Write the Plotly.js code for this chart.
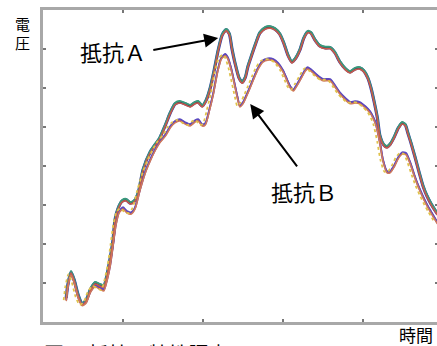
<!DOCTYPE html>
<html>
<head>
<meta charset="utf-8">
<script src="https://cdn.plot.ly/plotly-3.0.1.min.js"></script>
<style>
html,body{margin:0;padding:0;overflow:hidden;background:#fff;}
#chart{width:445px;height:346px;}
</style>
</head>
<body>
<div id="chart"></div>
<script>
// Time (arbitrary units) and voltage (arbitrary units)
const timeA = [0.29,0.31,0.35,0.39,0.44,0.49,0.54,0.59,0.65,0.71,0.76,0.80,0.84,0.875,0.90,0.94,0.99,1.04,1.09,1.14,1.19,1.25,1.34,1.40,1.46,1.53,1.59,1.65,1.71,1.78,1.84,1.90,1.94,1.99,2.04,2.09,2.14,2.19,2.24,2.29,2.33,2.36,2.40,2.45,2.49,2.53,2.56,2.61,2.66,2.71,2.78,2.84,2.90,2.96,3.01,3.06,3.11,3.16,3.21,3.26,3.31,3.35,3.40,3.46,3.53,3.59,3.65,3.71,3.78,3.84,3.90,3.96,4.01,4.06,4.10,4.14,4.18,4.21,4.26,4.30,4.34,4.39,4.44,4.49,4.53,4.56,4.60,4.65,4.70,4.75,4.80,4.85,4.93];
const voltA = [0.62,0.95,1.28,1.08,0.69,0.46,0.56,0.82,1.00,0.95,0.92,1.21,1.64,2.10,2.62,2.92,3.10,3.13,3.05,3.10,3.31,3.90,4.36,4.54,4.72,5.05,5.36,5.59,5.64,5.59,5.54,5.62,5.64,5.54,5.69,6.00,6.46,6.97,7.36,7.49,7.38,7.03,6.64,6.26,6.15,6.28,6.54,6.85,7.15,7.41,7.54,7.56,7.51,7.38,7.15,6.85,6.67,6.77,6.97,7.28,7.44,7.41,7.23,7.08,7.03,7.03,6.90,6.67,6.49,6.41,6.49,6.51,6.44,6.26,6.00,5.64,5.23,4.79,4.54,4.49,4.56,4.74,4.97,5.10,5.05,4.85,4.59,4.23,3.85,3.49,3.23,3.03,2.77];
const timeB = [0.29,0.31,0.35,0.39,0.44,0.49,0.54,0.59,0.65,0.71,0.76,0.80,0.84,0.875,0.91,0.95,1.00,1.05,1.10,1.15,1.21,1.28,1.34,1.40,1.46,1.53,1.59,1.65,1.71,1.78,1.84,1.90,1.94,1.99,2.03,2.08,2.13,2.18,2.23,2.28,2.31,2.35,2.39,2.43,2.46,2.50,2.54,2.59,2.64,2.69,2.75,2.81,2.88,2.94,3.00,3.05,3.09,3.13,3.18,3.23,3.28,3.31,3.36,3.43,3.50,3.59,3.65,3.71,3.78,3.84,3.90,3.96,4.03,4.09,4.13,4.16,4.21,4.25,4.30,4.34,4.39,4.44,4.49,4.54,4.59,4.64,4.69,4.75,4.80,4.85,4.93];
const voltB = [0.56,0.90,1.23,1.03,0.64,0.44,0.51,0.77,0.92,0.87,0.82,1.08,1.46,1.97,2.49,2.82,2.92,2.82,2.79,2.92,3.38,3.85,4.15,4.41,4.62,4.79,5.00,5.13,5.18,5.10,5.05,5.15,5.18,5.05,5.08,5.44,5.87,6.41,6.77,6.85,6.77,6.51,6.15,5.77,5.54,5.62,5.79,6.03,6.28,6.51,6.69,6.74,6.72,6.62,6.44,6.21,6.03,5.95,6.10,6.28,6.46,6.51,6.44,6.31,6.21,6.21,6.05,5.87,5.72,5.62,5.64,5.62,5.51,5.38,5.23,5.08,4.62,4.15,3.85,3.85,4.00,4.21,4.33,4.31,4.08,3.77,3.49,3.21,3.00,2.82,2.54];

const labelA = '抵抗Ａ';
const labelB = '抵抗Ｂ';
const yTitle1 = '電';
const yTitle2 = '圧';
const xTitle = '時間';
const caption = '図１ 抵抗の特性調査';

const XR = [0, 4.9375];
const YR = [0, 8];
const px = 1/80, py = 1/39;

function tr(x, y, color, width, opts) {
  return Object.assign({
    x: x, y: y, type: 'scatter', mode: 'lines',
    line: {color: color, width: width, shape: 'spline', smoothing: 0.6},
    hoverinfo: 'skip', showlegend: false
  }, opts || {});
}

const traces = [
  // bundle A
  tr(timeA, voltA, '#3a9a7a', 2, {yaxis: 'y2'}),
  tr(timeA, voltA, '#c85a4a', 1.6, {yaxis: 'y3'}),
  tr(timeA, voltA, '#3040b0', 3.2),
  tr(timeA, voltA, '#2a1f5a', 1.6),
  // bundle B
  tr(timeB, voltB, '#e2c040', 2, {xaxis: 'x3', line: {color: '#e0c24a', width: 1.8, dash: 'dot', shape: 'spline', smoothing: 0.6}}),
  tr(timeB, voltB, '#d07a5a', 1.5, {yaxis: 'y3'}),
  tr(timeB, voltB, '#5a4ac0', 1.5, {yaxis: 'y2'}),
  tr(timeB, voltB, '#7a3aa0', 2)
];

const font = 'Noto Sans CJK JP, Noto Sans, sans-serif';

const axisCommon = {
  showgrid: false, zeroline: false, showticklabels: false,
  showline: true, linecolor: '#a8a8a8', linewidth: 3, mirror: 'ticks',
  ticks: 'inside', ticklen: 3, tickwidth: 1.5, tickcolor: '#777', dtick: 1, tick0: 0
};

function txt(x, y, text, size, anchor) {
  return {xref: 'paper', yref: 'paper', x: (x-43)/395, y: (322-y)/312, text: text, showarrow: false,
    font: {family: font, size: size, color: '#000'}, xanchor: anchor || 'center', yanchor: 'middle', borderpad: 0};
}

const layout = {
  width: 445, height: 346,
  margin: {l: 43, r: 7, t: 10, b: 24},
  paper_bgcolor: '#fff', plot_bgcolor: '#fff',
  xaxis: Object.assign({}, axisCommon, {range: XR}),
  yaxis: Object.assign({}, axisCommon, {range: YR}),
  xaxis3: {overlaying: 'x', range: [XR[0] + 2.5*px, XR[1] + 2.5*px], visible: false},
  yaxis2: {overlaying: 'y', range: [YR[0] - 1*py, YR[1] - 1*py], visible: false},
  yaxis3: {overlaying: 'y', range: [YR[0] + 1*py, YR[1] + 1*py], visible: false},
  annotations: [
    txt(22, 24, yTitle1, 15),
    txt(22, 43, yTitle2, 15),
    txt(416, 334, xTitle, 17),
    txt(43, 353, caption, 20, 'left'),
    txt(113, 51, labelA, 22),
    txt(304, 191, labelB, 22),
    {xref: 'x', yref: 'y', axref: 'x', ayref: 'y', x: 2.19, y: 7.28, ax: 1.36, ay: 6.97, text: '',
     showarrow: true, arrowhead: 2, arrowsize: 1.4, arrowwidth: 2, arrowcolor: '#000', standoff: 0},
    {xref: 'x', yref: 'y', axref: 'x', ayref: 'y', x: 2.59, y: 5.59, ax: 3.19, ay: 3.95, text: '',
     showarrow: true, arrowhead: 2, arrowsize: 1.4, arrowwidth: 2, arrowcolor: '#000', standoff: 0}
  ]
};

Plotly.newPlot('chart', traces, layout, {staticPlot: true, displayModeBar: false});
</script>
</body>
</html>
